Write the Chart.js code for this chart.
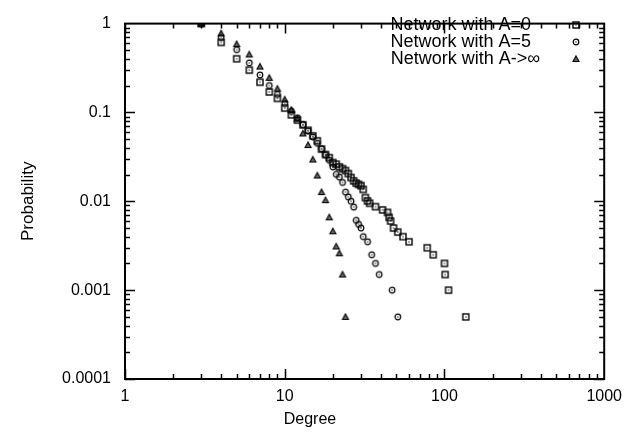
<!DOCTYPE html>
<html>
<head>
<meta charset="utf-8">
<script src="https://cdn.jsdelivr.net/npm/chart.js@4.4.0/dist/chart.umd.min.js"></script>
<style>
  html, body { margin: 0; padding: 0; background: #fff; }
  #wrap { width: 630px; height: 437px; }
</style>
</head>
<body>
<div id="wrap"><canvas id="chart"></canvas></div>
<script>
// Degree distributions
const degA0 = [3, 4, 5, 6, 7, 8, 9, 10, 11, 12, 13, 14, 15, 16, 17, 18, 19, 20, 21, 22,
  23, 24, 25, 26, 27, 28, 29, 30, 31, 32, 33, 34, 37, 41, 44, 45, 46, 48, 51, 55,
  60, 78, 85, 100, 101, 106, 136];
const probA0 = [1, 0.614, 0.402, 0.299, 0.219, 0.170, 0.144, 0.112, 0.094, 0.082,
  0.0725, 0.063, 0.0545, 0.048, 0.0387, 0.0336, 0.031, 0.0273, 0.0262, 0.0244,
  0.0233, 0.0222, 0.0205, 0.0185, 0.017, 0.016, 0.0155, 0.015, 0.0136, 0.011,
  0.0101, 0.0095, 0.0087, 0.008, 0.0075, 0.0066, 0.006, 0.005, 0.0045, 0.004,
  0.0035, 0.003, 0.0025, 0.002, 0.0015, 0.001, 0.0005];

const degA5 = [3, 4, 5, 6, 7, 8, 9, 10, 11, 12, 13, 14, 15, 16, 17, 18, 19, 20, 21, 22,
  23, 24, 25, 26, 27, 28, 29, 30, 31, 33, 35, 37, 39, 47, 51];
const probA5 = [1, 0.696, 0.509, 0.361, 0.264, 0.201, 0.160, 0.126, 0.103, 0.087,
  0.073, 0.062, 0.053, 0.045, 0.039, 0.0334, 0.029, 0.0244, 0.0201, 0.0187,
  0.0163, 0.0127, 0.0112, 0.0100, 0.0086, 0.0061, 0.0055, 0.0050, 0.0040,
  0.0035, 0.0025, 0.0020, 0.0015, 0.0010, 0.0005];

const degInf = [3, 4, 5, 6, 7, 8, 9, 10, 11, 12, 13, 14, 15, 16, 17, 18, 19, 20, 21, 22, 23, 24];
const probInf = [1, 0.776, 0.588, 0.449, 0.328, 0.245, 0.185, 0.140, 0.107, 0.085,
  0.058, 0.043, 0.0295, 0.0195, 0.0127, 0.0103, 0.0066, 0.0046, 0.0031, 0.0026,
  0.0015, 0.0005];

const seriesLabels = ['Network with A=0', 'Network with A=5', 'Network with A->\u221e'];
const xTicks = [1, 10, 100, 1000];
const yTicks = [0.0001, 0.001, 0.01, 0.1, 1];
const FONT = '"Liberation Sans", Arial, sans-serif';

// gnuplot-like marker glyphs
function marker(kind) {
  const c = document.createElement('canvas');
  c.width = 10; c.height = 10;
  const g = c.getContext('2d');
  g.strokeStyle = '#000';
  g.lineWidth = 1.4;
  if (kind === 'square') {
    g.strokeRect(2, 2, 6, 6);
    g.fillStyle = '#000';
    g.fillRect(4.4, 4.4, 1.2, 1.2);
  } else if (kind === 'circle') {
    g.lineWidth = 1.2;
    g.beginPath();
    g.arc(5, 5, 2.8, 0, Math.PI * 2);
    g.stroke();
    g.fillStyle = '#000';
    g.fillRect(4.4, 4.4, 1.2, 1.2);
  } else {
    g.lineWidth = 1.1;
    g.beginPath();
    g.moveTo(5, 2);
    g.lineTo(8, 7.5);
    g.lineTo(2, 7.5);
    g.closePath();
    g.fillStyle = '#666';
    g.fill();
    g.stroke();
  }
  return c;
}
const markers = [marker('square'), marker('circle'), marker('triangle')];

function toPoints(xs, ys) {
  return xs.map((v, i) => ({ x: v, y: ys[i] }));
}

// border, inward ticks on all four sides, key and x label
const frameTicks = {
  id: 'frameTicks',
  afterDatasetsDraw(chart) {
    const { ctx, chartArea: a, scales: { x, y } } = chart;
    ctx.save();
    ctx.strokeStyle = '#000';
    ctx.lineWidth = 1.5;
    ctx.beginPath();
    for (let e = 0; e < 3; e++) {
      for (let m = 1; m <= 9; m++) {
        const px = Math.round(x.getPixelForValue(m * Math.pow(10, e))) + 0.5;
        const len = m === 1 ? 10 : 5;
        ctx.moveTo(px, a.bottom); ctx.lineTo(px, a.bottom - len);
        ctx.moveTo(px, a.top); ctx.lineTo(px, a.top + len);
      }
    }
    for (let e = -4; e < 0; e++) {
      for (let m = 1; m <= 9; m++) {
        const py = Math.round(y.getPixelForValue(m * Math.pow(10, e))) + 0.5;
        const len = m === 1 ? 10 : 5;
        ctx.moveTo(a.left, py); ctx.lineTo(a.left + len, py);
        ctx.moveTo(a.right, py); ctx.lineTo(a.right - len, py);
      }
    }
    ctx.stroke();
    ctx.lineWidth = 2;
    ctx.strokeRect(a.left, a.top, a.right - a.left, a.bottom - a.top);

    ctx.fillStyle = '#000';
    ctx.textBaseline = 'middle';
    // x label sits left of the plot centre, as in the reference
    ctx.font = '16px ' + FONT;
    ctx.textAlign = 'center';
    ctx.fillText('Degree', 310, 420);

    // key: right-justified text with sample marker to its right
    ctx.font = '18px ' + FONT;
    ctx.textAlign = 'right';
    chart.data.datasets.forEach((ds, i) => {
      const ty = 25 + i * 17;
      ctx.fillText(ds.label, i === 2 ? 540 : 531, ty);
      const m = ds.pointStyle;
      ctx.drawImage(m, 576 - m.width / 2, ty - m.height / 2);
    });
    ctx.restore();
  }
};

Chart.defaults.font.family = FONT;
Chart.defaults.font.size = 16;
Chart.defaults.color = '#000';

new Chart(document.getElementById('chart'), {
  type: 'scatter',
  data: {
    datasets: [
      { label: seriesLabels[0], data: toPoints(degA0, probA0), pointStyle: markers[0] },
      { label: seriesLabels[1], data: toPoints(degA5, probA5), pointStyle: markers[1] },
      { label: seriesLabels[2], data: toPoints(degInf, probInf), pointStyle: markers[2] }
    ]
  },
  options: {
    responsive: true,
    maintainAspectRatio: false,
    animation: false,
    layout: { padding: { top: 15, right: 23, left: 0, bottom: 0 } },
    plugins: { legend: { display: false }, tooltip: { enabled: false } },
    scales: {
      x: {
        type: 'logarithmic',
        min: 1, max: 1000,
        grid: { display: false, drawTicks: false },
        border: { display: false },
        afterBuildTicks: s => { s.ticks = xTicks.map(v => ({ value: v })); },
        afterFit: s => { s.height = 58; },
        ticks: { padding: 8, maxRotation: 0, callback: v => String(v) }
      },
      y: {
        type: 'logarithmic',
        min: 0.0001, max: 1,
        grid: { display: false, drawTicks: false },
        border: { display: false },
        afterBuildTicks: s => { s.ticks = yTicks.map(v => ({ value: v })); },
        afterFit: s => { s.width = 125; },
        ticks: { padding: 14, callback: v => String(v) },
        title: { display: true, text: 'Probability', padding: { top: 18, bottom: 0 }, font: { size: 17, lineHeight: 1.2 } }
      }
    }
  },
  plugins: [frameTicks]
});
</script>
</body>
</html>
